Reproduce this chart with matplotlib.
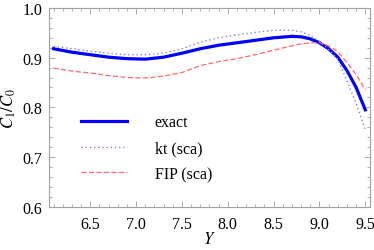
import matplotlib
matplotlib.use('Agg')
import matplotlib.pyplot as plt
from matplotlib.ticker import MultipleLocator

plt.rcParams['font.family'] = 'serif'
plt.rcParams['font.serif'] = ['Liberation Serif', 'DejaVu Serif']
plt.rcParams['mathtext.fontset'] = 'stix'

# values
Y = [6.1, 6.3, 6.5, 6.7, 6.9, 7.1, 7.3, 7.5, 7.7, 7.9, 8.1,
     8.3, 8.5, 8.7, 8.8, 8.9, 9.0, 9.1, 9.2, 9.3, 9.4, 9.5]
exact = [0.918, 0.911, 0.906, 0.901, 0.898, 0.897, 0.901, 0.909, 0.918, 0.925, 0.930,
         0.935, 0.940, 0.943, 0.942, 0.938, 0.930, 0.918, 0.901, 0.874, 0.840, 0.795]
kt = [0.923, 0.918, 0.913, 0.909, 0.906, 0.906, 0.909, 0.918, 0.931, 0.940, 0.946,
      0.951, 0.955, 0.955, 0.952, 0.945, 0.933, 0.917, 0.897, 0.853, 0.808, 0.755]
fip = [0.879, 0.873, 0.869, 0.864, 0.860, 0.859, 0.863, 0.870, 0.884, 0.892, 0.898,
       0.906, 0.915, 0.924, 0.928, 0.930, 0.930, 0.924, 0.912, 0.890, 0.866, 0.835]

fig = plt.figure(figsize=(3.74, 2.51), dpi=100)
ax = fig.add_axes([0.131, 0.173, 0.858, 0.791])

ax.plot(Y, exact, color='#0000ff', lw=2.3, label='exact')
ax.plot(Y, kt, color='#7f7fff', lw=1.0, ls=(0, (1, 2)), label='kt (sca)')
ax.plot(Y, fip, color='#ff6666', lw=0.9, ls=(0, (4, 2)), label='FIP (sca)')

ax.set_xlim(6.05, 9.55)
ax.set_ylim(0.6, 1.0)
ax.xaxis.set_major_locator(MultipleLocator(0.5))
ax.xaxis.set_minor_locator(MultipleLocator(0.1))
ax.yaxis.set_major_locator(MultipleLocator(0.1))
ax.yaxis.set_minor_locator(MultipleLocator(0.02))
ax.xaxis.set_major_formatter(plt.FormatStrFormatter('%.1f'))
ax.yaxis.set_major_formatter(plt.FormatStrFormatter('%.1f'))

gray = '#a0a0a0'
for s in ax.spines.values():
    s.set_color(gray)
    s.set_linewidth(0.8)
ax.tick_params(which='both', direction='in', top=True, right=True, color=gray,
               labelsize=11.5, labelcolor='black', width=0.6)
ax.tick_params(which='major', length=4, pad=5)
ax.tick_params(axis='x', which='major', pad=7)
ax.tick_params(which='minor', length=2)

ax.set_xlabel('$Y$', fontsize=12, labelpad=-1)
ax.set_ylabel('$C_1/C_0$', fontsize=12, labelpad=3)

ax.legend(loc='upper left', bbox_to_anchor=(0.1, 0.465), frameon=False,
          fontsize=11.5, handlelength=2.9, handletextpad=1.7, labelspacing=0.62,
          borderpad=0, borderaxespad=0)

fig.savefig('out.png', dpi=100)
